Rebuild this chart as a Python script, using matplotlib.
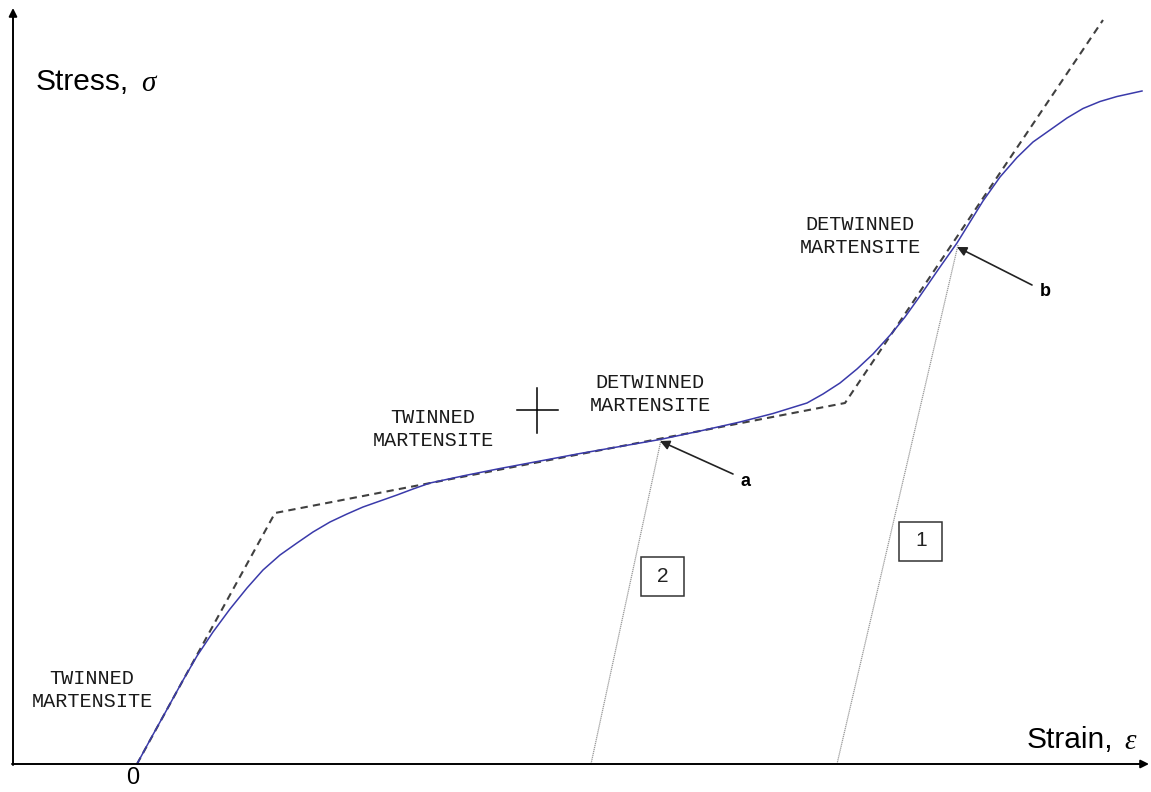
import matplotlib.pyplot as plt
from matplotlib.patches import Rectangle

plt.rcParams["font.family"] = "sans-serif"
plt.rcParams["font.sans-serif"] = ["Liberation Sans", "DejaVu Sans"]

# everything in pixel units (x right, y down)
curve_x = [137, 150, 165, 182, 197, 213, 230, 247, 263, 280, 297, 313, 330,
           347, 363, 380, 397, 413, 430, 465, 500, 540, 580, 620, 660, 700,
           740, 773, 807, 823, 840, 857, 873, 892, 905, 920, 940, 957, 970,
           983, 1000, 1017, 1033, 1050, 1067, 1083, 1100, 1117, 1142]
curve_y = [764, 740, 713, 682, 656, 632, 609, 588, 570, 555, 543, 532, 522,
           514, 507, 501, 495, 489, 483, 475.5, 468.5, 461, 453.5, 446.5,
           439.5, 431, 422, 413.5, 403, 394, 383, 369, 354, 333, 317, 296,
           267, 243, 222, 201, 177, 157.5, 142, 130, 118, 108.5, 101.5,
           96.5, 91]

bilinear_x = [137, 275, 845, 1103]
bilinear_y = [764, 513, 403, 20]

unload2_x = [661, 591]
unload2_y = [440, 764]
unload1_x = [958, 837]
unload1_y = [245, 764]

phase_labels = ["TWINNED\nMARTENSITE", "TWINNED\nMARTENSITE",
                "DETWINNED\nMARTENSITE", "DETWINNED\nMARTENSITE"]
phase_pos = [(92, 690), (433, 429), (650, 394), (860, 236)]

point_names = ["a", "b"]
point_tips = [(660, 441), (957, 247)]
point_tails = [(733, 474), (1032, 285)]

box_names = ["2", "1"]
box_centres = [(663, 576), (921, 541)]

fig = plt.figure(figsize=(11.51, 7.92), dpi=100)
ax = fig.add_axes([0, 0, 1, 1])
ax.set_xlim(0, 1151)
ax.set_ylim(792, 0)
ax.axis("off")

# axes with arrow heads
ax.annotate("", xy=(13, 8), xytext=(13, 765),
            arrowprops=dict(arrowstyle="-|>", lw=1.4, color="black",
                            mutation_scale=12, shrinkA=0, shrinkB=0))
ax.annotate("", xy=(1149, 764), xytext=(12, 764),
            arrowprops=dict(arrowstyle="-|>", lw=1.4, color="black",
                            mutation_scale=12, shrinkA=0, shrinkB=0))

ax.plot(bilinear_x, bilinear_y, ls=(0, (3.5, 2.5)), lw=1.5, color="#404040")
ax.plot(curve_x, curve_y, lw=1.1, color="#3a3aaa", solid_joinstyle="round")
ax.plot(unload2_x, unload2_y, ls=(0, (1, 0.6)), lw=0.9, color="#999999")
ax.plot(unload1_x, unload1_y, ls=(0, (1, 0.6)), lw=0.9, color="#999999")

# crosshair
ax.plot([517, 558], [410, 410], lw=1.1, color="black")
ax.plot([537, 537], [388, 433], lw=1.1, color="black")

for lab, (x, y) in zip(phase_labels, phase_pos):
    ax.text(x, y, lab, family="Liberation Mono", fontsize=14.5,
            ha="center", va="center", linespacing=1.3, color="#1a1a1a")

for name, tip, tail in zip(point_names, point_tips, point_tails):
    ax.annotate("", xy=tip, xytext=tail,
                arrowprops=dict(arrowstyle="-|>", lw=1.2, color="#222222",
                                mutation_scale=14, shrinkA=0, shrinkB=0))
    ax.text(tail[0] + 13, tail[1] + 7, name, fontsize=13, fontweight="bold",
            ha="center", va="center")

for name, (x, y) in zip(box_names, box_centres):
    ax.add_patch(Rectangle((x - 21.5, y - 19.5), 43, 39, fill=False,
                           lw=1.1, edgecolor="#333333"))
    ax.text(x, y, name, fontsize=15, ha="center", va="center", color="#222222")

ax.text(36, 82, "Stress,", fontsize=21.5, ha="left", va="center")
ax.text(141, 84, "σ", family="Liberation Serif", style="italic", fontsize=21,
        ha="left", va="center")
ax.text(1027, 740, "Strain,", fontsize=21.5, ha="left", va="center")
ax.text(1124, 742, "ε", family="Liberation Serif", style="italic",
        fontsize=21, ha="left", va="center")
ax.text(133, 778, "0", fontsize=17, ha="center", va="center")

plt.savefig("out.png", dpi=100)
